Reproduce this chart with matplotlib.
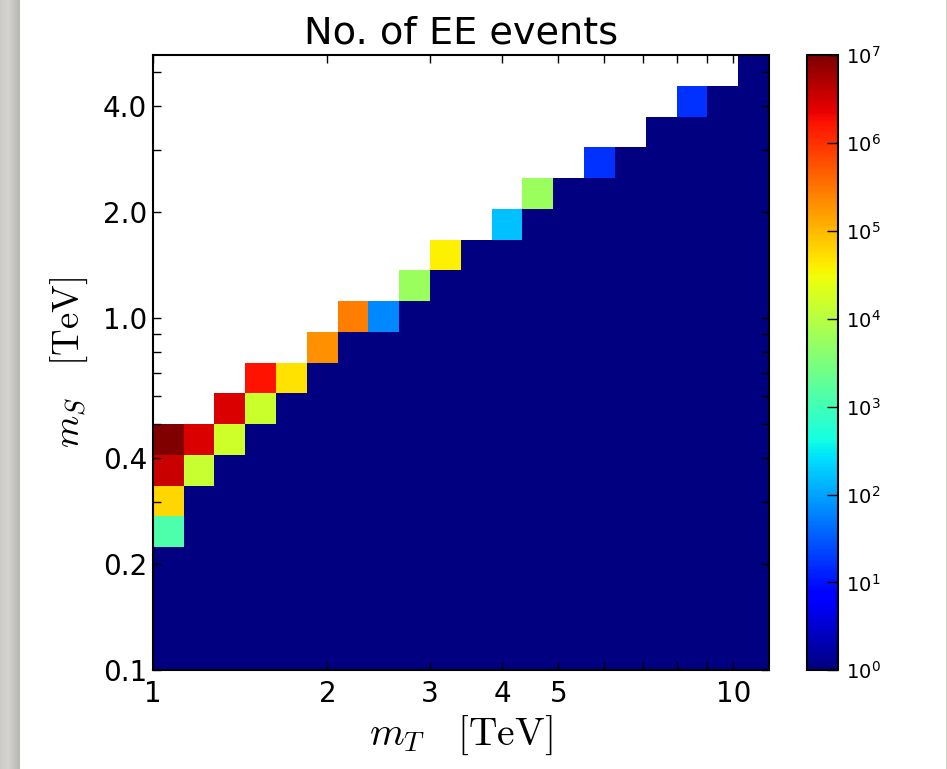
import numpy as np
import matplotlib
matplotlib.use("Agg")
import matplotlib.pyplot as plt
from matplotlib.colors import LogNorm
from matplotlib.ticker import FixedLocator, FixedFormatter, NullLocator
from matplotlib.lines import Line2D

# Bin edges of the (m_T, m_S) scan, in TeV
mT_edges = 1.13 ** np.arange(21)
mS_edges = 0.1 * 5.0 ** (np.arange(21) / 8.0)

# Highest kinematically open m_S bin for every m_T column
top_row = [7, 7, 8, 9, 9, 10, 11, 11, 12, 13, 13, 14, 15, 15, 16, 16, 17, 18, 18, 19]

# Event counts along the edge of the open region, top bin first, per m_T column
ridge_counts = [
    [1.0e7, 3.5e6, 6.0e4, 1.3e3],
    [2.7e6, 1.4e4],
    [2.7e6, 1.6e4],
    [1.7e6, 1.5e4],
    [5.0e4],
    [1.9e5],
    [2.7e5],
    [64.0],
    [5.6e3],
    [3.9e4],
    [],
    [155.0],
    [5.6e3],
    [],
    [17.0],
    [],
    [],
    [16.0],
    [],
    [],
]
floor_count = 1.0  # bins deeper inside the open region

# Assemble the event-count grid (rows: m_S bins, columns: m_T bins)
n_rows = len(mS_edges) - 1
n_cols = len(mT_edges) - 1
counts = np.full((n_rows, n_cols), np.nan)
for c in range(n_cols):
    counts[: top_row[c] + 1, c] = floor_count
    for i, v in enumerate(ridge_counts[c]):
        counts[top_row[c] - i, c] = v
counts = np.ma.masked_invalid(counts)

W, H = 947, 769
fig = plt.figure(figsize=(W / 100, H / 100), dpi=100)
fig.patch.set_facecolor("white")

# page edge shading on the left and a thin border on the right
strip = fig.add_axes([0, 0, 19 / W, 1])
shade = np.concatenate([np.linspace(0.80, 0.83, 8), np.linspace(0.83, 0.72, 12)])
strip.imshow(np.dstack([shade, shade * 0.995, shade * 0.975]),
             aspect="auto", extent=[0, 1, 0, 1])
strip.set_axis_off()
fig.add_artist(Line2D([946.5 / W, 946.5 / W], [0, 1], transform=fig.transFigure,
                      color="#c8c6c0", lw=1.2))

ax = fig.add_axes([152.7 / W, 98.7 / H, (769 - 152.7) / W, (670.3 - 55) / H])
cax = fig.add_axes([807 / W, 98.7 / H, 31 / W, (670.3 - 55) / H])

mesh = ax.pcolormesh(mT_edges, mS_edges, counts, cmap="jet",
                     norm=LogNorm(vmin=1, vmax=1e7), shading="flat",
                     edgecolors="none", linewidth=0)
ax.set_xscale("log")
ax.set_yscale("log")
ax.set_xlim(mT_edges[0], mT_edges[-1])
ax.set_ylim(mS_edges[0], mS_edges[-1])

x_ticks = [1, 2, 3, 4, 5, 6, 7, 8, 9, 10]
x_labels = ["1", "2", "3", "4", "5", "", "", "", "", "10"]
y_ticks = [0.1, 0.2, 0.3, 0.4, 0.5, 0.6, 0.7, 0.8, 0.9, 1.0, 2.0, 3.0, 4.0, 5.0]
y_labels = ["0.1", "0.2", "", "0.4", "", "", "", "", "", "1.0", "2.0", "", "4.0", ""]

ax.xaxis.set_major_locator(FixedLocator(x_ticks))
ax.xaxis.set_major_formatter(FixedFormatter(x_labels))
ax.xaxis.set_minor_locator(NullLocator())
ax.yaxis.set_major_locator(FixedLocator(y_ticks))
ax.yaxis.set_major_formatter(FixedFormatter(y_labels))
ax.yaxis.set_minor_locator(NullLocator())

ax.tick_params(axis="both", which="major", direction="in", length=6, width=1,
               top=True, right=True, labelsize=20, colors="black")
ax.tick_params(axis="x", pad=7)
ax.tick_params(axis="y", pad=4)
for s in ax.spines.values():
    s.set_linewidth(1.5)

ax.set_title("No. of EE events", fontsize=27.5, pad=8.3)
ax.set_xlabel(r"$m_T\ \ \ [\mathrm{TeV}]$", fontsize=28.5, math_fontfamily="cm",
              labelpad=4)
ax.set_ylabel(r"$m_S\ \ \ [\mathrm{TeV}]$", fontsize=26.5, math_fontfamily="cm",
              labelpad=9)

cb = fig.colorbar(mesh, cax=cax)
cb.set_ticks([10.0 ** k for k in range(8)])
cb.ax.yaxis.set_minor_locator(NullLocator())
cb.ax.tick_params(direction="in", length=8, width=1, labelsize=14, pad=6)
cb.outline.set_linewidth(1.5)

fig.savefig("out.png", dpi=100)
